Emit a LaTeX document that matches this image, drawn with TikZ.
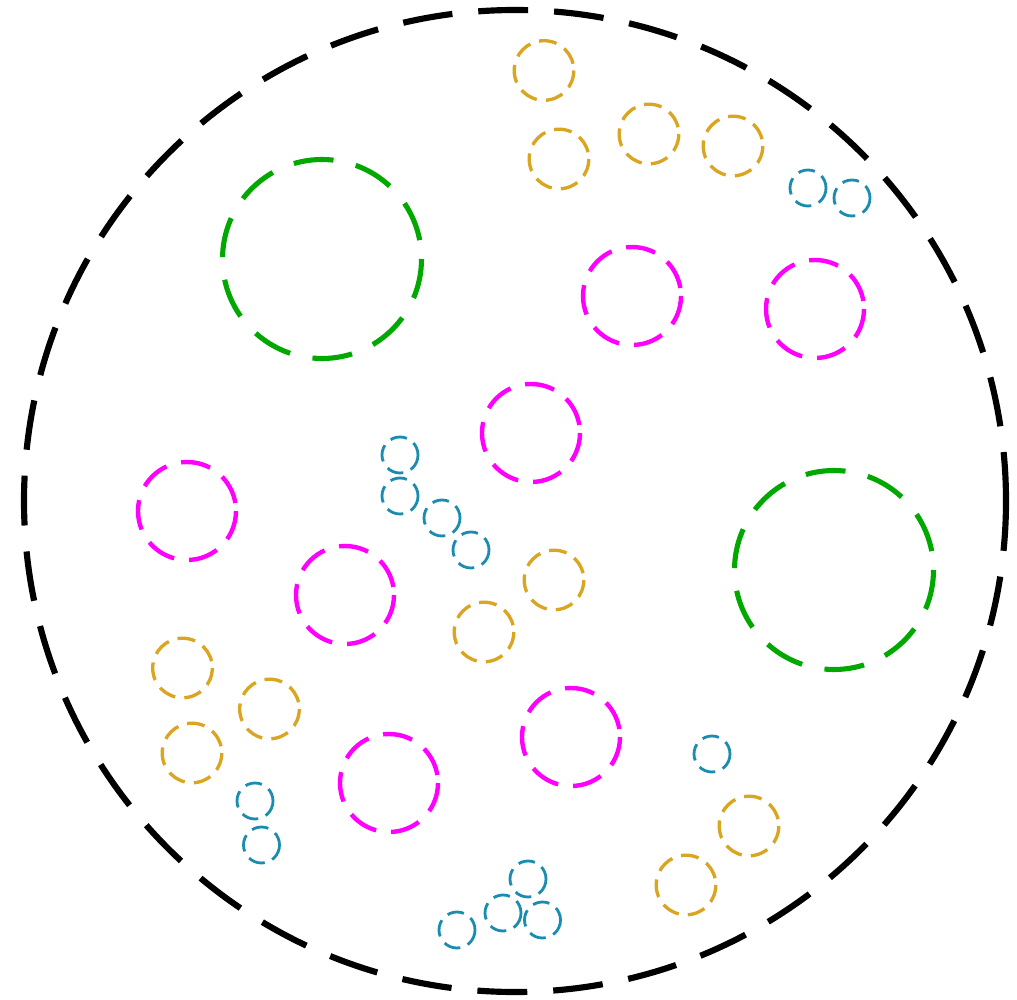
\documentclass[tikz,border=0pt]{standalone}
\usepackage{xcolor}
\usepackage{tikz}
\definecolor{dishgreen}{RGB}{0,168,0}
\definecolor{dishpink}{RGB}{255,0,255}
\definecolor{dishgold}{RGB}{218,165,32}
\definecolor{dishblue}{RGB}{26,140,176}

\begin{document}
\begin{tikzpicture}[x=0.1cm,y=-0.1cm,
    dish/.style={black,line width=1.75pt,dash pattern=on 14.2pt off 7.4pt},
    greenring/.style={dishgreen,line width=1.45pt,dash pattern=on 11.4pt off 6.5pt},
    pinkring/.style={dishpink,line width=1.25pt,dash pattern=on 8.5pt off 4.3pt},
    goldring/.style={dishgold,line width=0.95pt,dash pattern=on 5.1pt off 2.6pt},
    bluering/.style={dishblue,line width=0.8pt,dash pattern=on 4.8pt off 2.3pt}]
  \useasboundingbox (0,0) rectangle (101.7,100);
  % outer plate
  \draw[dish] (51.5,50.1) circle (49.1);
  % large colonies
  \draw[greenring] (32.2,25.9) circle (9.95);
  \draw[greenring] (83.4,57.0) circle (9.95);
  % medium colonies
  \draw[pinkring] (63.2,29.6) circle (4.9);
  \draw[pinkring] (81.5,30.9) circle (4.9);
  \draw[pinkring] (53.1,43.3) circle (4.9);
  \draw[pinkring] (18.7,51.1) circle (4.9);
  \draw[pinkring] (34.5,59.5) circle (4.9);
  \draw[pinkring] (57.1,73.7) circle (4.9);
  \draw[pinkring] (38.9,78.3) circle (4.9);
  % small colonies
  \draw[goldring] (54.4,7.05) circle (2.98);
  \draw[goldring] (55.9,15.9) circle (2.98);
  \draw[goldring] (64.9,13.4) circle (2.98);
  \draw[goldring] (73.3,14.6) circle (2.98);
  \draw[goldring] (55.4,58.0) circle (2.98);
  \draw[goldring] (48.4,63.2) circle (2.98);
  \draw[goldring] (18.25,66.8) circle (2.98);
  \draw[goldring] (26.95,70.9) circle (2.98);
  \draw[goldring] (19.2,75.3) circle (2.98);
  \draw[goldring] (74.9,82.6) circle (2.98);
  \draw[goldring] (68.6,88.5) circle (2.98);
  % tiny colonies
  \draw[bluering] (80.8,18.8) circle (1.8);
  \draw[bluering] (85.2,19.8) circle (1.8);
  \draw[bluering] (40.0,45.5) circle (1.8);
  \draw[bluering] (40.0,49.6) circle (1.8);
  \draw[bluering] (44.2,51.8) circle (1.8);
  \draw[bluering] (47.1,55.0) circle (1.8);
  \draw[bluering] (71.2,75.4) circle (1.8);
  \draw[bluering] (25.5,80.1) circle (1.8);
  \draw[bluering] (26.15,84.5) circle (1.8);
  \draw[bluering] (52.8,87.9) circle (1.8);
  \draw[bluering] (50.3,91.3) circle (1.8);
  \draw[bluering] (54.25,92.0) circle (1.8);
  \draw[bluering] (45.7,93.0) circle (1.8);
\end{tikzpicture}
\end{document}
